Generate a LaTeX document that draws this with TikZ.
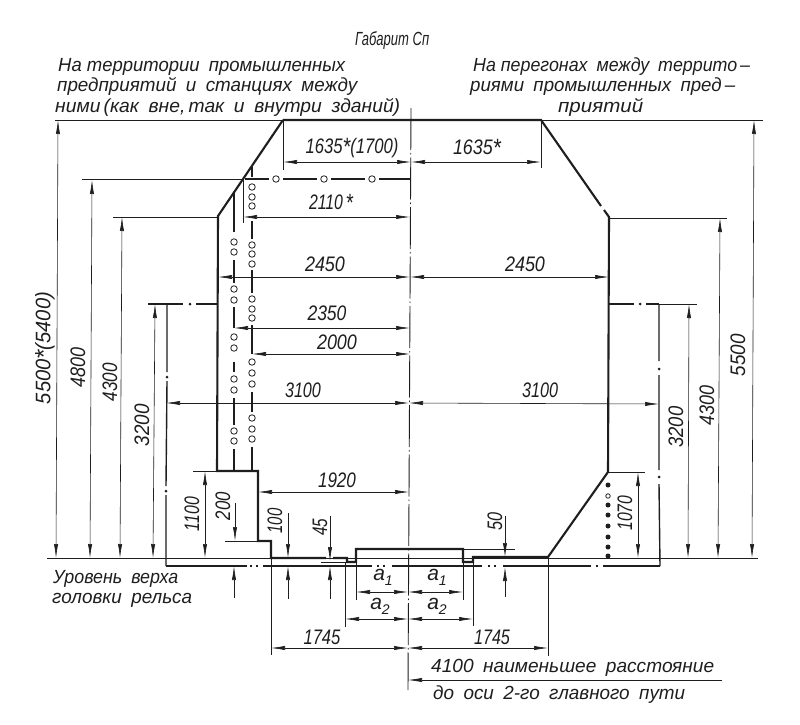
\documentclass[tikz,border=0pt]{standalone}
\usepackage{fontspec}
\usepackage{graphicx}
\usetikzlibrary{arrows.meta}
\newfontfamily\drf{Liberation Sans}
\definecolor{ink}{HTML}{1E1E1E}
\newcommand\lblfont{\drf\itshape\fontsize{21}{21}\selectfont}
\newcommand\txtfont{\drf\itshape\fontsize{19}{19}\selectfont}
\newcommand\wtxt[2]{\setbox0\hbox{#2}\pgfmathsetmacro\xsc{#1/\the\wd0}\tikz[baseline=(inner.base)]\node[inner sep=0pt,xscale=\xsc,transform shape] (inner) {#2};}
\newcommand\HT[5]{\node[lbl] (#1) at (#2,#3) {\wtxt{#4}{#5}};}
\newcommand\RT[5]{\node[lbl,rotate=90] (#1) at (#2,#3) {\wtxt{#4}{#5}};}
\newcommand\TX[5]{\node[txt] (#1) at (#2,#3) {\wtxt{#4}{#5}};}
\newcommand\aidx[2]{#1\raisebox{-5pt}{\fontsize{14}{14}\selectfont #2}}
\newcommand\st{\raisebox{-2pt}{\fontsize{25}{25}\selectfont *}}
\tikzset{
  lbl/.style={inner sep=0pt,text=ink,font=\lblfont},
  txt/.style={inner sep=0pt,text=ink,anchor=base west,font=\txtfont},
  thick line/.style={draw=ink,line width=2.1pt,line join=miter},
  ext/.style={draw=ink,line width=0.7pt},
  dim/.style={draw=ink,line width=0.6pt,{Latex[length=14pt,width=4.2pt]}-{Latex[length=14pt,width=4.2pt]}},
  dimto/.style={draw=ink,line width=0.6pt,-{Latex[length=14pt,width=4.2pt]}},
  axis/.style={draw=ink,line width=0.9pt,dash pattern=on 42pt off 3pt on 1.5pt off 3pt},
  phantomline/.style={draw=ink,line width=1.4pt},
  hole/.style={draw=ink,line width=0.8pt,fill=white,circle,inner sep=0pt,minimum size=6.5pt},
  dotm/.style={fill=ink,circle,inner sep=0pt,minimum size=#1},
  dotm/.default=5pt
}
\begin{document}
\begin{tikzpicture}[x=1pt,y=-1pt]
\useasboundingbox (0,0) rectangle (800,725);
\fill[white] (0,0) rectangle (800,725);

% axis
\draw[axis] (411,108) -- (408,690);

% level and rail lines
\draw[ext] (47,558) -- (271,558);
\draw[ext] (548,558) -- (758,558);
\draw[ext] (271,558) -- (548,558);
\draw[phantomline] (166,566) -- (247,566) (250,566) -- (252,566) (256,566) -- (258,566)
  (263,566) -- (372,566) (377,566) -- (379,566) (383,566) -- (385,566)
  (392,566) -- (482,566) (488,566) -- (490,566) (494,566) -- (496,566)
  (503,566) -- (591,566) (596,566) -- (598,566) (603,566) -- (660,566);

% top extensions
\draw[ext] (55,120) -- (283,120);
\draw[ext] (541,120) -- (763,120);
\draw[ext] (82,179) -- (243,179);
\draw[ext] (113,217) -- (218,217);
\draw[ext] (610,218) -- (727,218);
\draw[ext] (193,471) -- (217,471);
\draw[ext] (608,472) -- (645,472);
\draw[ext] (225,541) -- (258,541);
\draw[ext] (321,562) -- (347,562);
\draw[ext] (463,549) -- (515,549);

% main outline
\draw[thick line] (283,120) -- (541,120) -- (601,206);
\draw[thick line] (604,210) -- (609,217) -- (608,472) -- (548,557) -- (473,557) -- (473,562) -- (463,562) -- (463,549) -- (356,549) -- (356,562) -- (347,562) -- (347,558) -- (333,558);
\draw[thick line] (326,558) -- (271,558) -- (271,541) -- (258,541) -- (258,471) -- (217,471) -- (218,216) -- (283,120);

% left phantom verticals, 252 series
\draw[thick line,line width=1.5pt] (252,167) -- (252,177);
\draw[thick line,line width=1.5pt] (252,221) -- (252,239) (252,270) -- (252,293) (252,325) -- (252,354) (252,392) -- (252,412) (252,447) -- (252,471);
\foreach \n/\y in {a/187,b/197,c/206,d/245,e/254,f/264,g/299,h/309,i/318,j/362,k/373,l/384,m/418,n/429,o/439}{
  \node[hole] (p\n) at (252,\y) {};
}
% 234 series
\draw[thick line,line width=1.5pt] (234,193) -- (234,232) (234,260) -- (234,283) (234,307) -- (234,328) (234,362) -- (234,372) (234,398) -- (234,425) (234,449) -- (234,471);
\foreach \n/\y in {a/242,b/252,c/289,d/300,e/337,f/348,g/379,h/390,i/431,j/441}{
  \node[hole] (q\n) at (234,\y) {};
}

% dash-and-circle level 179
\draw[thick line,line width=1.7pt] (245,179) -- (269,179) (283,179) -- (317,179) (331,179) -- (365,179) (379,179) -- (411,179);
\foreach \n/\x in {a/276,b/324,c/372}{
  \node[hole] (r\n) at (\x,179) {};
}

% outer phantom left
\draw[phantomline] (148,304) -- (183,304) (196,304) -- (217,304);
\node[dotm=3pt] (dl1) at (190,304) {};
\draw[phantomline] (167,304) -- (167,372) (167,381) -- (166,486) (166,495) -- (166,566);
\node[dotm=3pt] (dl2) at (167,377) {};
\node[dotm=3pt] (dl3) at (166,491) {};
% outer phantom right
\draw[phantomline] (609,304) -- (634,304) (646,304) -- (659,304);
\draw[ext] (659,304) -- (697,304);
\node[dotm=3pt] (dr1) at (640,304) {};
\draw[phantomline] (659,304) -- (659,361) (659,375) -- (659,470) (659,484) -- (660,566);
\node[dotm=3pt] (dr2) at (659,369) {};
\node[dotm=3pt] (dr3) at (659,477) {};
% right dots
\node[dotm] (s1) at (608,485) {};
\node[hole,minimum size=4.5pt] (s2) at (608,496) {};
\foreach \n/\y in {3/505,4/515,5/526,6/537,7/547,8/556}{
  \node[dotm] (s\n) at (608,\y) {};
}

% vertical dimensions left
\draw[dim] (58,120) -- (56,558);
\draw[dim] (92,180) -- (90,558);
\draw[dim] (122,217) -- (120,558);
\draw[dim] (155,304) -- (153,558);
\draw[dim] (205,471) -- (205,558);
% vertical dimensions right
\draw[dim] (754,120) -- (752,558);
\draw[dim] (720,218) -- (718,558);
\draw[dim] (689,304) -- (688,558);
\draw[dim] (638,472) -- (638,558);

% small gap arrows
\draw[dimto] (235,503) -- (235,541);
\draw[dimto] (234,598) -- (234,566);
\draw[dimto] (288,513) -- (288,558);
\draw[dimto] (288,599) -- (288,566);
\draw[dimto] (330,516) -- (330,561);
\draw[dimto] (330,599) -- (330,566);
\draw[dimto] (505,516) -- (505,557);
\draw[dimto] (505,597) -- (505,567);

% horizontal dimension extensions
\draw[ext] (283,120) -- (283,170);
\draw[ext] (541,120) -- (541,168);
\draw[ext] (243,178) -- (243,223);
\draw[ext] (356,549) -- (356,600);
\draw[ext] (463,549) -- (463,600);
\draw[ext] (345,562) -- (345,627);
\draw[ext] (473,562) -- (473,626);
\draw[ext] (271,558) -- (271,655);
\draw[ext] (548,557) -- (548,656);

% horizontal dimensions
\draw[dim] (283,162) -- (411,162);
\draw[dim] (411,162) -- (541,162);
\draw[dim] (243,217) -- (410,217);
\draw[dim] (218,277) -- (410,277);
\draw[dim] (410,277) -- (609,277);
\draw[dim] (234,328) -- (410,328);
\draw[dim] (252,354) -- (410,354);
\draw[dim] (166,403) -- (409,403);
\draw[dim] (409,403) -- (659,404);
\draw[dim] (258,492) -- (409,492);
\draw[dim] (356,592) -- (408,592);
\draw[dim] (408,592) -- (463,592);
\draw[dim] (345,619) -- (408,619);
\draw[dim] (408,619) -- (473,619);
\draw[dim] (271,648) -- (408,648);
\draw[dim] (408,648) -- (548,648);
\coordinate (endline) at (722,680);
\draw[dimto] (endline) -- (408,680);

% horizontal dimension texts
\HT{t1}{352}{148}{93}{1635\st(1700)}
\HT{t2}{477}{148}{48}{1635\st}
\HT{t3}{331}{203}{44}{2110\,\st}
\HT{t4}{325}{264}{40}{2450}
\HT{t5}{525}{264}{40}{2450}
\HT{t6}{327}{313}{39}{2350}
\HT{t7}{337}{342}{40}{2000}
\HT{t8}{303}{390}{36}{3100}
\HT{t9}{540}{390}{36}{3100}
\HT{t10}{337}{480}{38}{1920}
\HT{t11}{322}{637}{37}{1745}
\HT{t12}{492}{637}{36}{1745}
\node[lbl] (a1l) at (383,577) {\aidx{a}{1}};
\node[lbl] (a1r) at (437,577) {\aidx{a}{1}};
\node[lbl] (a2l) at (380,606) {\aidx{a}{2}};
\node[lbl] (a2r) at (437,606) {\aidx{a}{2}};

% rotated dimension texts
\RT{v1}{45}{348}{112}{5500\st(5400)}
\RT{v2}{78}{367}{40}{4800}
\RT{v3}{110}{382}{38}{4300}
\RT{v4}{142}{425}{42}{3200}
\RT{v5}{192}{514}{34}{1100}
\RT{v6}{223}{506}{28}{200}
\RT{v7}{275}{521}{25}{100}
\RT{v8}{320}{527}{17}{45}
\RT{v9}{495}{521}{18}{50}
\RT{v10}{625}{513}{35}{1070}
\RT{v11}{676}{427}{41}{3200}
\RT{v12}{707}{405}{40}{4300}
\RT{v13}{738}{355}{42}{5500}

% captions
\TX{c0}{355}{46}{74}{Габарит Сп}
\TX{c1}{58}{71}{287}{На территории\enspace промышленных}
\TX{c2}{57}{91}{300}{предприятий\enspace и\enspace станциях\enspace между}
\TX{c3}{55}{112}{345}{ними\,(как\enspace вне,\,так\enspace и\enspace внутри\enspace зданий)}
\TX{c4}{473}{71}{277}{На перегонах\enspace между\enspace террито\,–}
\TX{c5}{470}{92}{265}{риями\enspace промышленных\enspace пред\,–}
\TX{c6}{558}{112}{85}{приятий}
\TX{c7}{53}{583}{125}{Уровень\enspace верха}
\TX{c8}{52}{603}{140}{головки\enspace рельса}
\TX{c9}{431}{672}{283}{4100\enspace наименьшее\enspace расстояние}
\TX{c10}{433}{699}{252}{до\enspace оси\enspace 2-го\enspace главного\enspace пути}
\end{tikzpicture}
\end{document}
